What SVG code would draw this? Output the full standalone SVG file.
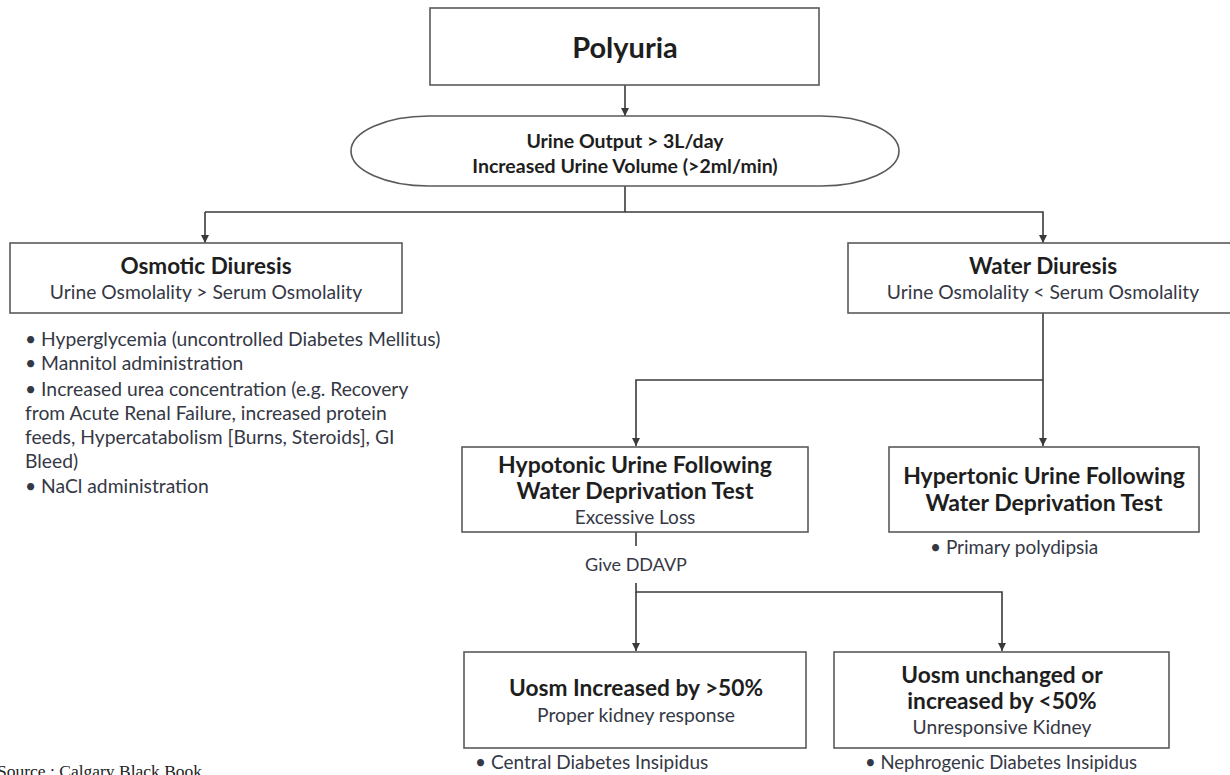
<svg xmlns="http://www.w3.org/2000/svg" width="1230" height="775" viewBox="0 0 1230 775">
<style>
.box{fill:#fff;stroke:#5a5a5a;stroke-width:1.6}
.ln{fill:none;stroke:#3a3a3a;stroke-width:1.6}
.t{font-family:Lato,"Liberation Sans",sans-serif;text-anchor:middle;fill:#1e1e1e}
.b{font-weight:bold}
.r{font-family:Lato,"Liberation Sans",sans-serif;fill:#353845}
.s{font-family:Lato,"Liberation Sans",sans-serif;text-anchor:middle;fill:#353845}
</style>
<defs>
<marker id="ah" viewBox="0 0 10 10" refX="10" refY="5" markerWidth="5" markerHeight="5" orient="auto" markerUnits="strokeWidth">
<path d="M0,0 L10,5 L0,10 z" fill="#3a3a3a"/>
</marker>
</defs>
<rect width="1230" height="775" fill="#fff"/>

<g id="connectors">
<line class="ln" x1="625" y1="85" x2="625" y2="116" marker-end="url(#ah)"/>
<polyline class="ln" points="625,186 625,212"/>
<polyline class="ln" points="205,212 1043,212 1043,243" marker-end="url(#ah)"/>
<line class="ln" x1="205" y1="212" x2="205" y2="243" marker-end="url(#ah)"/>
<line class="ln" x1="1043" y1="313" x2="1043" y2="446" marker-end="url(#ah)"/>
<polyline class="ln" points="1043,380 636,380 636,446" marker-end="url(#ah)"/>
<line class="ln" x1="636" y1="532" x2="636" y2="546"/>
<polyline class="ln" points="636,583 636,592 1002,592 1002,651" marker-end="url(#ah)"/>
<line class="ln" x1="636" y1="592" x2="636" y2="651" marker-end="url(#ah)"/>
</g>

<g id="polyuria">
<rect class="box" x="430" y="8" width="389" height="77"/>
<text class="t b" x="625" y="58" font-size="29">Polyuria</text>
</g>

<g id="urine-output">
<rect class="box" x="351" y="116" width="548" height="70" rx="78" ry="35"/>
<text class="t b" x="625" y="148" font-size="19.5">Urine Output &gt; 3L/day</text>
<text class="t b" x="625" y="173" font-size="19.5">Increased Urine Volume (&gt;2ml/min)</text>
</g>

<g id="osmotic">
<rect class="box" x="10" y="243" width="392" height="70"/>
<text class="t b" x="206" y="274" font-size="22.5">Osmotic Diuresis</text>
<text class="s" x="206" y="299" font-size="19.3">Urine Osmolality &gt; Serum Osmolality</text>
</g>

<g id="osmotic-causes">
<text class="r" x="25" y="346" font-size="19.3">• Hyperglycemia (uncontrolled Diabetes Mellitus)</text>
<text class="r" x="25" y="370" font-size="19.3">• Mannitol administration</text>
<text class="r" x="25" y="396" font-size="19.3">• Increased urea concentration (e.g. Recovery</text>
<text class="r" x="25" y="420" font-size="19.3">from Acute Renal Failure, increased protein</text>
<text class="r" x="25" y="444" font-size="19.3">feeds, Hypercatabolism [Burns, Steroids], GI</text>
<text class="r" x="25" y="468" font-size="19.3">Bleed)</text>
<text class="r" x="25" y="493" font-size="19.3">• NaCl administration</text>
</g>

<g id="water">
<rect class="box" x="848" y="243" width="392" height="70"/>
<text class="t b" x="1043" y="274" font-size="22.5">Water Diuresis</text>
<text class="s" x="1043" y="299" font-size="19.3">Urine Osmolality &lt; Serum Osmolality</text>
</g>

<g id="hypotonic">
<rect class="box" x="462" y="447" width="346" height="85"/>
<text class="t b" x="635" y="473" font-size="23">Hypotonic Urine Following</text>
<text class="t b" x="635" y="499" font-size="23">Water Deprivation Test</text>
<text class="s" x="635" y="524" font-size="19">Excessive Loss</text>
</g>

<g id="give-ddavp">
<text class="s" x="636" y="571" font-size="18">Give DDAVP</text>
</g>

<g id="hypertonic">
<rect class="box" x="889" y="447" width="310" height="85"/>
<text class="t b" x="1044" y="484" font-size="23">Hypertonic Urine Following</text>
<text class="t b" x="1044" y="511" font-size="23">Water Deprivation Test</text>
<text class="r" x="930" y="554" font-size="19">• Primary polydipsia</text>
</g>

<g id="uosm-increased">
<rect class="box" x="464" y="652" width="342" height="96"/>
<text class="t b" x="636" y="696" font-size="22.7">Uosm Increased by &gt;50%</text>
<text class="s" x="636" y="722" font-size="19.3">Proper kidney response</text>
<text class="r" x="475" y="769" font-size="19">• Central Diabetes Insipidus</text>
</g>

<g id="uosm-unchanged">
<rect class="box" x="834" y="652" width="335" height="96"/>
<text class="t b" x="1002" y="683" font-size="22.7">Uosm unchanged or</text>
<text class="t b" x="1002" y="709" font-size="22.7">increased by &lt;50%</text>
<text class="s" x="1002" y="734" font-size="19.3">Unresponsive Kidney</text>
<text class="r" x="865" y="769" font-size="18.5">• Nephrogenic Diabetes Insipidus</text>
</g>

<g id="source">
<text x="-3" y="777" font-family="'Liberation Serif',serif" font-size="17.5" fill="#222">Source : Calgary Black Book</text>
</g>
</svg>
